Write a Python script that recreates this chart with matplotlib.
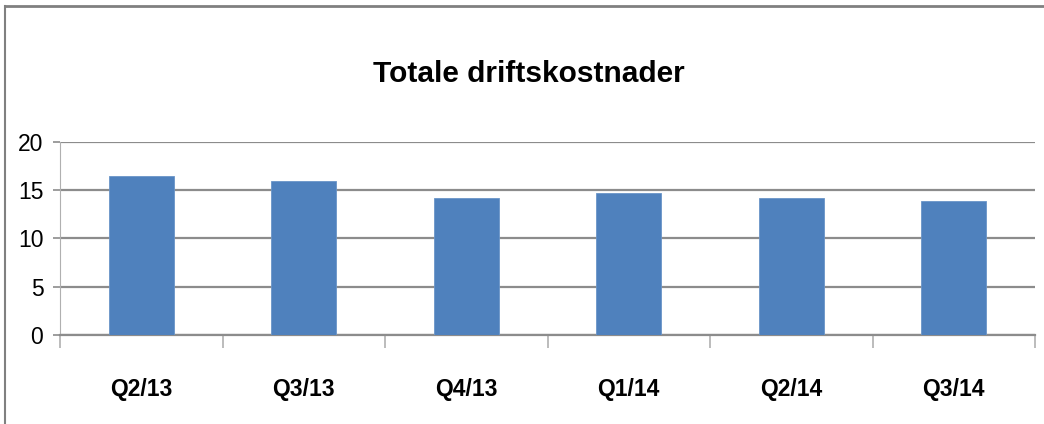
import numpy as np
import matplotlib
matplotlib.use("Agg")
import matplotlib.pyplot as plt
from matplotlib.lines import Line2D

# quarterly operating costs
quarters = ["Q2/13", "Q3/13", "Q4/13", "Q1/14", "Q2/14", "Q3/14"]
costs = [16.4, 15.9, 14.2, 14.65, 14.2, 13.9]
yticks = [0, 5, 10, 15, 20]

plt.rcParams['font.family'] = ['Liberation Sans', 'DejaVu Sans']

grey = '#8c8c8c'
fig = plt.figure(figsize=(10.44, 4.24), dpi=100)
ax = fig.add_axes([0.0575, 0.2099, 0.9339, 0.4559])

x = np.arange(len(quarters))
ax.bar(x, costs, width=0.4, color='#4F81BD', edgecolor='#6a95c8', linewidth=0.6, zorder=3)

ax.set_xlim(-0.5, len(quarters) - 0.5)
ax.set_ylim(0, 20)
ax.set_yticks(yticks)
ax.set_yticklabels([str(v) for v in yticks], fontsize=16.5)
ax.yaxis.grid(True, color=grey, linewidth=1.6, zorder=0)

# category boundaries get the tick marks, labels sit in between
ax.set_xticks(np.arange(len(quarters) + 1) - 0.5)
ax.set_xticklabels([])
ax.set_xticks(x, minor=True)
ax.set_xticklabels(quarters, minor=True, fontsize=16.5, fontweight='bold')
ax.tick_params(axis='x', which='major', length=9, color='#b0b0b0', width=1.2)
ax.tick_params(axis='x', which='minor', length=0, pad=31)
ax.tick_params(axis='y', length=5, color=grey, width=1.2, pad=7)

for side in ['top', 'right']:
    ax.spines[side].set_visible(False)
ax.spines['left'].set_color('#b0b0b0')
ax.spines['bottom'].set_color(grey)
ax.spines['bottom'].set_linewidth(1.6)

fig.text(0.507, 0.806, "Totale driftskostnader", ha='center', va='baseline',
         fontsize=21.5, fontweight='bold')

# chart area border (top and left edges visible)
fig.add_artist(Line2D([0.005, 1.0], [0.987, 0.987], transform=fig.transFigure,
                      color='#808080', linewidth=2))
fig.add_artist(Line2D([0.005, 0.005], [0.0, 0.987], transform=fig.transFigure,
                      color='#808080', linewidth=1.5))

fig.savefig("out.png", dpi=100)
